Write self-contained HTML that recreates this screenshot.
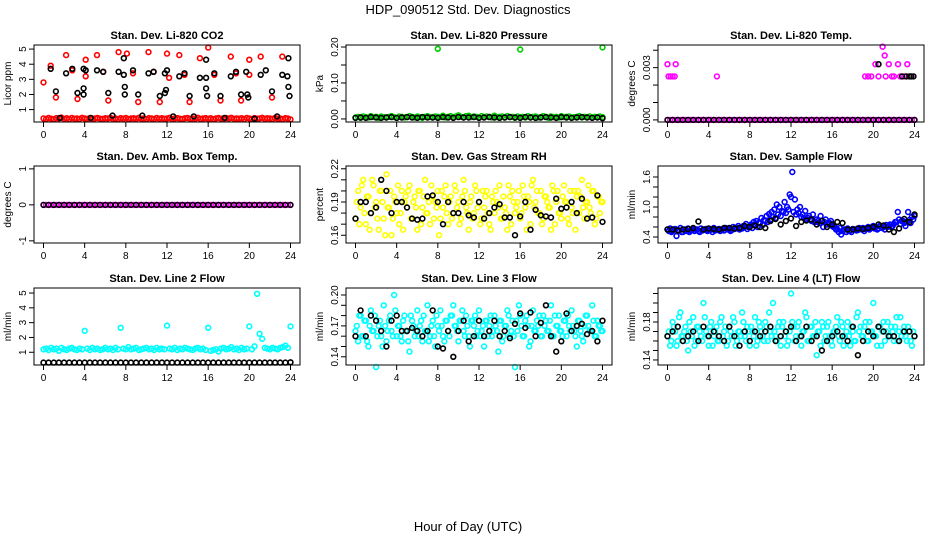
<!DOCTYPE html>
<html><head><meta charset="utf-8"><style>
body{margin:0;background:#fff;}
svg{display:block;font-family:"Liberation Sans",Arial,sans-serif;}
</style></head><body>
<svg id="c" width="936" height="540" viewBox="0 0 936 540" xmlns="http://www.w3.org/2000/svg">
<text x="468" y="14" text-anchor="middle" font-size="13">HDP_090512  Std. Dev. Diagnostics</text>
<text x="468" y="531" text-anchor="middle" font-size="13">Hour of Day (UTC)</text>
</svg>
<script>
const xTicks = [0,4,8,12,16,20,24];
const co2Band = [.42,.38,.45,.4,.36,.44,.41,.47,.39,.43,.37,.45,.4,.42,.38,.46,.41,.39,.44,.37,.42,.45,.4,.38,.43,.41,.46,.39,.42,.37,.44,.4,.45,.38,.41,.43,.39,.46,.4,.42,.37,.44,.41,.38,.45,.4,.43,.39,.42,.46,.38,.41,.44,.4,.37,.43,.45,.39,.42,.4,.46,.38,.41,.44,.39,.43,.37,.42,.45,.4,.38,.44,.41,.46,.39,.42,.4,.43,.37,.45,.41,.38,.44,.4,.42,.46,.39,.43,.41,.38,.45,.4,.42,.37,.44,.41,.35];
const co2RedX = [0,0.7,1.2,2.2,2.8,3.3,4.1,4.1,5.2,5.8,6.3,7.3,8.1,8.7,9.2,10.2,10.7,11.3,12,12.2,13.2,13.7,14.2,15.2,16,16.6,17.2,18.2,18.7,19.2,20,20,21.1,22.2,23.2];
const co2RedY = [2.8,3.9,1.8,4.6,3.6,1.7,4.3,3.2,4.6,3.5,1.6,4.8,4.7,3.4,1.5,4.8,3.5,1.5,4.7,3.1,4.6,3.3,1.5,4.4,5.1,3.3,1.6,4.5,3.4,1.6,4.3,3.3,4.5,1.8,4.5];
const co2BlkX = [0.7,1.2,1.6,2.2,2.8,3.3,3.9,3.9,3.9,4.1,4.6,5.2,5.8,6.3,6.7,7.3,7.8,7.8,7.9,7.9,8.7,9.2,9.6,10.2,10.7,11.3,11.8,11.8,11.9,12,12.6,13.2,13.7,14.2,14.6,15.2,15.8,15.8,15.8,15.9,16.6,17.2,17.6,18.2,18.7,19.2,19.7,19.8,19.9,20.5,21.1,21.6,22.2,22.7,23.2,23.7,23.8,23.8,23.9];
const co2BlkY = [3.7,2.2,0.45,3.4,3.7,2.1,2.0,2.4,3.7,3.6,0.45,3.6,3.5,2.1,0.6,3.5,3.3,4.4,2.5,2.0,3.6,2.0,0.6,3.4,3.5,1.9,2.1,3.4,2.3,3.6,0.55,3.2,3.4,1.9,0.55,3.1,4.3,3.1,2.4,1.9,3.4,1.9,0.45,3.2,3.5,2.0,3.5,2.0,1.8,0.4,3.3,3.6,2.2,0.55,3.3,3.2,4.4,2.5,1.9];
const presBand = [.004,.006,.003,.007,.005,.004,.008,.005,.006,.003,.007,.005,.004,.006,.008,.005,.003,.007,.006,.004,.005,.008,.006,.004,.007,.005,.003,.006,.008,.005,.004,.007,.006,.005,.009,.004,.006,.008,.005,.007,.01,.006,.004,.008,.009,.005,.007,.006,.004,.008,.005,.007,.006,.004,.009,.005,.006,.007,.004,.008,.005,.006,.003,.007,.005,.006,.004,.008,.005,.006,.007,.004,.005,.008,.006,.003,.007,.005,.006,.004,.008,.005,.006,.007,.004,.005,.006,.008,.004,.006,.005,.007,.004,.006,.005,.007,.005];
const presOutX = [8,16,24];
const presOutY = [0.195,0.193,0.199];
const presBlk = [.003,.004,.003,.005,.004,.003,.004,.005,.003,.004,.005,.004,.003,.005,.004,.004,.003,.005,.004,.003,.005,.004,.004,.005,.003,.004,.005,.004,.003,.004,.005,.004,.003,.005,.004,.003,.004,.005,.004,.003,.005,.004,.003,.004,.005,.004,.003,.004,.002];
const tempOutX = [0,0.1,0.3,0.5,0.7,0.8,4.8,19.2,19.5,19.8,20.2,20.5,20.9,21.1,21.2,21.5,21.8,22,22.4,22.6,23,23.3,23.6];
const tempOutY = [.0032,.0025,.0025,.0025,.0025,.0032,.0025,.0025,.0025,.0025,.0032,.0025,.0042,.0037,.0025,.0032,.0025,.0025,.0032,.0025,.0025,.0032,.0025];
const tempBlkOutX = [20.5,22.8,23.2,23.5,23.7,23.9];
const tempBlkOutY = [.0032,.0025,.0025,.0025,.0025,.0025];
const rhA = [.175,.2,.185,.21,.17,.195,.18,.205,.19,.165,.2,.175,.215,.185,.16,.195,.18,.17,.2,.19,.185,.205,.175,.195,.165,.2,.185,.21,.18,.17,.195,.19,.2,.175,.185,.205,.17,.195,.18,.2,.19,.175,.21,.185,.165,.195,.18,.2,.19,.175,.185,.2,.17,.195,.18,.19,.205,.175,.185,.165,.195,.2,.18,.19,.175,.205,.185,.195,.17,.21,.19,.18,.2,.175,.195,.185,.165,.2,.19,.18,.175,.205,.19,.17,.185,.2,.195,.18,.21,.175,.19,.185,.2,.17,.195,.18,.19];
const rhB = [.19,.17,.205,.18,.195,.165,.21,.185,.175,.2,.19,.16,.185,.2,.175,.19,.205,.18,.165,.195,.2,.175,.19,.185,.2,.17,.195,.18,.19,.205,.175,.185,.16,.2,.195,.18,.19,.175,.205,.185,.17,.195,.2,.18,.19,.175,.205,.185,.17,.2,.195,.18,.165,.19,.2,.185,.175,.195,.18,.205,.17,.19,.185,.2,.18,.195,.165,.19,.205,.185,.2,.18,.17,.195,.19,.185,.205,.17,.2,.18,.195,.19,.175,.2,.18,.165,.2,.195,.185,.19,.205,.18,.2,.175,.195,.19,.185];
const rhBlk = [.175,.19,.19,.18,.185,.21,.2,.18,.19,.19,.185,.175,.174,.175,.195,.196,.19,.17,.19,.18,.18,.19,.178,.176,.19,.175,.18,.185,.188,.176,.176,.16,.177,.19,.165,.183,.178,.177,.176,.193,.184,.185,.19,.18,.193,.175,.176,.196,.172];
const sfA = [.55,.57,.52,.56,.54,.58,.5,.55,.57,.53,.56,.55,.52,.57,.54,.56,.53,.55,.58,.54,.56,.55,.53,.57,.55,.54,.56,.58,.55,.57,.6,.56,.62,.58,.65,.6,.68,.64,.72,.7,.75,.8,.78,.85,.82,.9,.88,.95,1.2,.9,.85,.88,.8,.78,.75,.82,.72,.7,.75,.68,.72,.7,.65,.68,.62,.6,.55,.58,.52,.55,.57,.53,.56,.55,.54,.57,.58,.56,.6,.58,.62,.6,.57,.62,.6,.64,.62,.6,.66,.7,.75,.72,.68,.7,.74,.8,.82];
const sfB = [.52,.5,.55,.42,.53,.5,.55,.52,.5,.54,.52,.55,.5,.53,.55,.52,.54,.5,.53,.55,.52,.56,.58,.55,.52,.6,.57,.62,.58,.62,.66,.6,.65,.7,.72,.68,.78,.74,.82,.86,.9,.95,1.05,1.0,.92,1.1,1.0,1.25,1.7,1.15,.95,1.0,.85,.92,.78,.75,.85,.7,.72,.82,.6,.75,.68,.72,.6,.55,.5,.45,.55,.5,.52,.5,.55,.53,.58,.55,.52,.58,.55,.6,.57,.55,.62,.58,.55,.6,.65,.62,.7,.9,.66,.72,.62,.9,.68,.75,.7];
const sfBlk = [.55,.55,.53,.55,.56,.58,.71,.55,.57,.56,.55,.58,.58,.57,.58,.62,.6,.63,.6,.58,.72,.76,.65,.72,.77,.62,.7,.73,.75,.65,.72,.6,.65,.7,.68,.55,.55,.57,.56,.58,.6,.65,.63,.55,.5,.57,.76,.7,.85];
const l2A = [1.2,1.25,1.15,1.3,1.2,1.25,1.1,1.3,1.2,1.15,1.25,1.3,1.2,1.15,1.25,1.2,2.45,1.25,1.15,1.3,1.2,1.25,1.15,1.2,1.3,1.2,1.25,1.15,1.3,1.2,2.65,1.25,1.2,1.35,1.2,1.25,1.3,1.15,1.2,1.25,1.3,1.2,1.25,1.15,1.3,1.2,1.25,1.2,2.8,1.25,1.2,1.3,1.15,1.25,1.2,1.3,1.25,1.2,1.15,1.25,1.3,1.2,1.25,1.15,2.65,1.1,1.15,1.2,1.05,1.25,1.3,1.2,1.25,1.35,1.2,1.25,1.15,1.3,1.2,1.25,2.75,1.2,1.4,4.95,2.25,1.9,1.3,1.25,1.2,1.3,1.25,1.2,1.3,1.35,1.45,1.3,2.75];
const l2Blk = [.3,.3,.3,.3,.3,.3,.3,.3,.3,.3,.3,.3,.3,.3,.3,.3,.3,.3,.3,.3,.3,.3,.3,.3,.3,.3,.3,.3,.3,.3,.3,.3,.3,.3,.3,.3,.3,.3,.3,.3,.3,.3,.3,.3,.3,.3,.3,.3,.32];
const l3A = [.165,.155,.18,.16,.175,.15,.185,.165,.13,.17,.16,.19,.155,.175,.165,.2,.16,.17,.155,.18,.165,.145,.175,.16,.185,.17,.155,.165,.19,.16,.175,.15,.17,.185,.16,.175,.165,.18,.19,.17,.155,.175,.165,.18,.16,.175,.17,.16,.185,.165,.15,.175,.17,.16,.18,.165,.175,.155,.17,.185,.16,.175,.13,.165,.18,.16,.175,.17,.155,.185,.165,.17,.16,.18,.175,.165,.19,.16,.17,.18,.165,.175,.16,.17,.185,.165,.15,.175,.16,.17,.18,.165,.19,.16,.175,.17,.165];
const l3B = [.17,.18,.16,.175,.155,.17,.165,.18,.16,.175,.15,.17,.165,.18,.16,.185,.17,.16,.175,.165,.155,.18,.17,.165,.16,.175,.18,.165,.155,.17,.16,.18,.165,.17,.155,.175,.16,.18,.17,.165,.175,.185,.16,.17,.15,.175,.18,.165,.16,.17,.175,.16,.18,.165,.17,.145,.175,.16,.17,.18,.165,.16,.175,.19,.17,.16,.18,.15,.17,.165,.175,.18,.16,.17,.165,.175,.16,.18,.17,.165,.16,.175,.18,.165,.17,.16,.175,.165,.155,.18,.17,.165,.175,.16,.17,.165,.17];
const l3Blk = [.16,.185,.16,.18,.175,.165,.15,.175,.18,.165,.165,.168,.165,.16,.165,.185,.15,.148,.165,.14,.165,.175,.155,.16,.175,.16,.165,.175,.16,.165,.158,.172,.182,.168,.183,.16,.173,.19,.16,.145,.155,.182,.165,.17,.172,.162,.165,.155,.175];
const l4A = [.165,.155,.18,.17,.16,.19,.165,.175,.15,.17,.185,.16,.175,.165,.2,.17,.155,.18,.165,.175,.16,.185,.17,.155,.175,.165,.18,.16,.17,.19,.165,.175,.155,.17,.185,.16,.175,.165,.18,.16,.17,.2,.165,.175,.155,.18,.17,.16,.21,.175,.165,.18,.155,.17,.185,.16,.175,.165,.145,.17,.18,.16,.175,.165,.155,.17,.185,.16,.175,.165,.18,.155,.17,.16,.19,.175,.165,.18,.16,.17,.2,.165,.175,.155,.18,.17,.165,.175,.16,.185,.17,.165,.175,.16,.17,.155,.165];
const l4B = [.17,.16,.175,.155,.185,.165,.17,.16,.18,.165,.155,.175,.17,.16,.185,.165,.175,.155,.17,.16,.18,.165,.175,.16,.17,.185,.155,.17,.165,.18,.16,.17,.175,.165,.155,.18,.17,.16,.175,.19,.165,.17,.16,.18,.175,.165,.155,.17,.18,.16,.175,.165,.17,.19,.16,.175,.165,.18,.17,.155,.175,.165,.18,.16,.17,.175,.165,.18,.155,.17,.165,.175,.16,.185,.17,.165,.175,.16,.18,.17,.165,.155,.175,.17,.16,.18,.165,.17,.175,.16,.185,.17,.165,.175,.16,.17,.165];
const l4Blk = [.165,.17,.175,.16,.165,.17,.16,.175,.165,.17,.165,.16,.175,.165,.155,.17,.16,.17,.165,.17,.175,.16,.165,.17,.175,.16,.165,.175,.16,.165,.15,.16,.165,.17,.165,.16,.175,.145,.16,.17,.165,.175,.17,.165,.165,.16,.17,.17,.165];

const panels = [
 {name:'li820-co2',title:'Stan. Dev. Li-820 CO2',col:0,row:0,ymin:0.18,ymax:5.27,yt:[1,2,3,4,5],ytl:['1','2','3','4','5'],ylab:'Licor ppm',
  series:[{c:'#f00',ys:co2Band},{c:'#f00',xs:co2RedX,ys:co2RedY},{c:'#000',xs:co2BlkX,ys:co2BlkY}]},
 {name:'li820-pressure',title:'Stan. Dev. Li-820 Pressure',col:1,row:0,ymin:-0.0085,ymax:0.2056,yt:[0,0.05,0.1,0.15,0.2],ytl:['0.00','','0.10','','0.20'],ylab:'kPa',
  series:[{c:'#0c0',ys:presBand},{c:'#0c0',xs:presOutX,ys:presOutY},{c:'#000',ys:presBlk}]},
 {name:'li820-temp',title:'Stan. Dev. Li-820 Temp.',col:2,row:0,ymin:-0.00012,ymax:0.0043,yt:[0,0.001,0.002,0.003,0.004],ytl:['0.000','','','0.003',''],ylab:'degrees C',
  series:[{c:'#f0f',ys:presBand.map(()=>0)},{c:'#000',ys:presBlk.map(()=>0)},{c:'#f0f',xs:tempOutX,ys:tempOutY},{c:'#000',xs:tempBlkOutX,ys:tempBlkOutY}]},
 {name:'amb-box-temp',title:'Stan. Dev. Amb. Box Temp.',col:0,row:1,ymin:-1.06,ymax:1.08,yt:[-1,0,1],ytl:['-1','0','1'],ylab:'degrees C',
  series:[{c:'#f0f',ys:presBand.map(()=>0)},{c:'#000',ys:presBlk.map(()=>0)}]},
 {name:'gas-stream-rh',title:'Stan. Dev. Gas Stream RH',col:1,row:1,ymin:0.153,ymax:0.2225,yt:[0.16,0.17,0.18,0.19,0.2,0.21,0.22],ytl:['0.16','','','0.19','','','0.22'],ylab:'percent',
  series:[{c:'#ff0',ys:rhA},{c:'#ff0',ys:rhB,off:0.125},{c:'#000',ys:rhBlk}]},
 {name:'sample-flow',title:'Stan. Dev. Sample Flow',col:2,row:1,ymin:0.28,ymax:1.82,yt:[0.4,0.6,0.8,1.0,1.2,1.4,1.6],ytl:['0.4','','','1.0','','','1.6'],ylab:'ml/min',
  series:[{c:'#00f',ys:sfA},{c:'#00f',ys:sfB,off:0.125},{c:'#000',ys:sfBlk}]},
 {name:'line2-flow',title:'Stan. Dev. Line 2 Flow',col:0,row:2,ymin:0.14,ymax:5.34,yt:[1,2,3,4,5],ytl:['1','2','3','4','5'],ylab:'ml/min',
  series:[{c:'#0ff',ys:l2A},{c:'#000',ys:l2Blk}]},
 {name:'line3-flow',title:'Stan. Dev. Line 3 Flow',col:1,row:2,ymin:0.132,ymax:0.2068,yt:[0.14,0.15,0.16,0.17,0.18,0.19,0.2],ytl:['0.14','','','0.17','','','0.20'],ylab:'ml/min',
  series:[{c:'#0ff',ys:l3A},{c:'#0ff',ys:l3B,off:0.125},{c:'#000',ys:l3Blk}]},
 {name:'line4-flow',title:'Stan. Dev. Line 4 (LT) Flow',col:2,row:2,ymin:0.1347,ymax:0.2158,yt:[0.14,0.15,0.16,0.17,0.18,0.19,0.2,0.21],ytl:['0.14','','','','0.18','','',''],ylab:'ml/min',
  series:[{c:'#0ff',ys:l4A},{c:'#0ff',ys:l4B,off:0.125},{c:'#000',ys:l4Blk}]}
];

const NS='http://www.w3.org/2000/svg';
const svg=document.getElementById('c');
function mk(tag,attrs,parent){const e=document.createElementNS(NS,tag);for(const k in attrs)e.setAttribute(k,attrs[k]);(parent||svg).appendChild(e);return e;}
const colL=[34,346,658], rowT=[45,166,288], W=266, H=77;
panels.forEach(p=>{
  const g=mk('g',{});
  
  
  const L=colL[p.col],T=rowT[p.row];
  const x0=L+9.5, x1=L+W-9.5;
  const sx=v=>x0+(x1-x0)*v/24;
  const sy=v=>T+H-(v-p.ymin)/(p.ymax-p.ymin)*H;
  const t=mk('text',{x:L+W/2,y:T-6,'text-anchor':'middle','font-size':11,'font-weight':'bold'},g);
  t.textContent=p.title;
  
  
  p.series.forEach(s=>{
    const n=s.ys.length;
    s.ys.forEach((v,i)=>{
      const xv=s.xs?s.xs[i]:(i*24/(n-1)+(s.off||0));
      if(xv>24.05)return;
      const c=mk('circle',{cx:sx(xv).toFixed(1),cy:sy(v).toFixed(1),r:2.4,fill:'none',stroke:s.c,'stroke-width':1.6},g);
      
      
    });
  });
  const box=mk('rect',{x:L,y:T,width:W,height:H,fill:'none',stroke:'#000','stroke-width':1},g);
  
  
  xTicks.forEach(v=>{
    mk('line',{x1:sx(v),x2:sx(v),y1:T+H,y2:T+H+5,stroke:'#000'},g);
    const tl=mk('text',{x:sx(v),y:T+H+16,'text-anchor':'middle','font-size':10},g);
    tl.textContent=v;
    
    
  });
  p.yt.forEach((v,i)=>{
    const y=sy(v);
    mk('line',{x1:L-5,x2:L,y1:y,y2:y,stroke:'#000'},g);
    if(!p.ytl[i])return;
    const tl=mk('text',{x:L-8,y:y,'text-anchor':'middle','font-size':10,transform:`rotate(-90 ${L-8} ${y})`},g);
    tl.textContent=p.ytl[i];
    
    
  });
  const yl=mk('text',{x:L-23,y:T+H/2,'text-anchor':'middle','font-size':10,transform:`rotate(-90 ${L-23} ${T+H/2})`},g);
  yl.textContent=p.ylab;
  
  
});
</script>
</body></html>
